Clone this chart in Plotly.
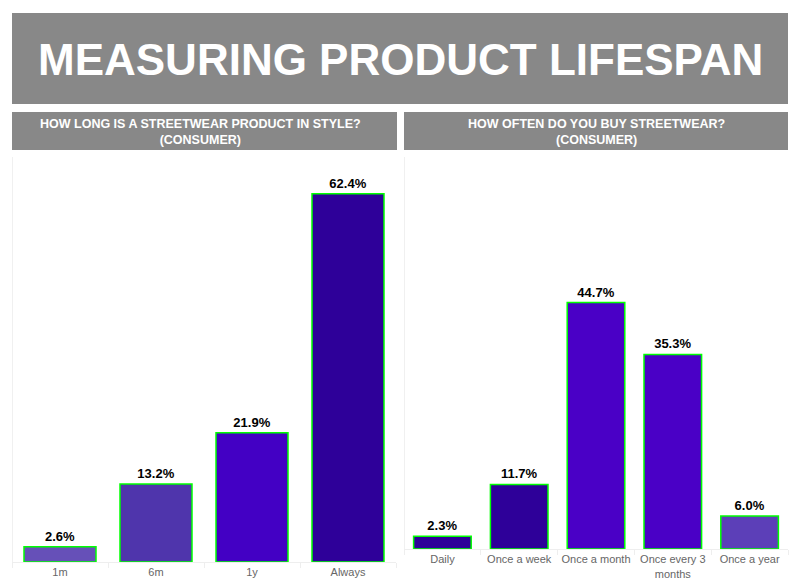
import plotly.graph_objects as go

title_text = "MEASURING PRODUCT LIFESPAN"
left_title = "HOW LONG IS A STREETWEAR PRODUCT IN STYLE?<br>(CONSUMER)"
right_title = "HOW OFTEN DO YOU BUY STREETWEAR?<br>(CONSUMER)"

left_categories = ["1m", "6m", "1y", "Always"]
left_values = [2.6, 13.2, 21.9, 62.4]
left_colors = ["#6650b8", "#4f35ac", "#4300c4", "#2e0099"]

right_categories = ["Daily", "Once a week", "Once a month", "Once every 3<br>months", "Once a year"]
right_values = [2.3, 11.7, 44.7, 35.3, 6.0]
right_colors = ["#2e0099", "#2e0099", "#4a00c6", "#4a00c6", "#5c3fb8"]

W, H = 800, 587

def px(x):
    return x / W

def py(y):
    return 1 - y / H

FONT = "Liberation Sans"

fig = go.Figure()

for cats, vals, cols, xa, ya in [
    (left_categories, left_values, left_colors, "x", "y"),
    (right_categories, right_values, right_colors, "x2", "y2"),
]:
    fig.add_trace(go.Bar(
        x=cats, y=vals, xaxis=xa, yaxis=ya,
        marker=dict(color=cols, line=dict(color="#00ff00", width=1.5)),
        width=0.75,
        texttemplate="%{y:.1f}%", textposition="outside",
        textfont=dict(family=FONT, size=13, color="#000000", weight="bold"),
        cliponaxis=False, hoverinfo="x+y", showlegend=False,
    ))

axis_common = dict(
    showgrid=False,
    tickson="boundaries", ticks="outside", ticklen=5, tickcolor="#eeeeee",
    showline=True, linecolor="#eeeeee", linewidth=1,
    tickangle=0,
    tickfont=dict(family=FONT, size=11, color="#666666"),
    fixedrange=True,
)

fig.update_layout(
    width=W, height=H,
    margin=dict(l=0, r=0, t=0, b=0),
    paper_bgcolor="white", plot_bgcolor="white",
    xaxis=dict(domain=[px(12), px(396)], anchor="y", **axis_common),
    yaxis=dict(domain=[py(562), py(157)], range=[0, 68.64], visible=False, anchor="x", fixedrange=True),
    xaxis2=dict(domain=[px(404), px(788)], anchor="y2", **axis_common),
    yaxis2=dict(domain=[py(549), py(157)], range=[0, 71.1], visible=False, anchor="x2", fixedrange=True),
    shapes=[
        dict(type="rect", xref="paper", yref="paper", x0=px(12), x1=px(788), y0=py(104), y1=py(13),
             fillcolor="#888888", line=dict(width=0), layer="below"),
        dict(type="rect", xref="paper", yref="paper", x0=px(12), x1=px(397), y0=py(150), y1=py(112),
             fillcolor="#888888", line=dict(width=0), layer="below"),
        dict(type="rect", xref="paper", yref="paper", x0=px(404), x1=px(788), y0=py(150), y1=py(112),
             fillcolor="#888888", line=dict(width=0), layer="below"),
        dict(type="line", xref="paper", yref="paper", x0=px(12.5), x1=px(12.5), y0=py(562), y1=py(157),
             line=dict(color="#f0f0f0", width=1)),
        dict(type="line", xref="paper", yref="paper", x0=px(404.5), x1=px(404.5), y0=py(549), y1=py(157),
             line=dict(color="#f0f0f0", width=1)),
    ],
    annotations=[
        dict(text=title_text, xref="paper", yref="paper", x=0.5, y=py(60), xanchor="center", yanchor="middle",
             showarrow=False, font=dict(family=FONT, size=44, color="white", weight="bold")),
        dict(text=left_title, xref="paper", yref="paper", x=px(200), y=py(131.5), xanchor="center", yanchor="middle",
             showarrow=False, font=dict(family=FONT, size=12.5, color="white", weight="bold")),
        dict(text=right_title, xref="paper", yref="paper", x=px(596), y=py(131.5), xanchor="center", yanchor="middle",
             showarrow=False, font=dict(family=FONT, size=12.5, color="white", weight="bold")),
    ],
)

fig.write_html("out.html", config={"displayModeBar": False},
               post_script="document.body.style.margin='0';")
